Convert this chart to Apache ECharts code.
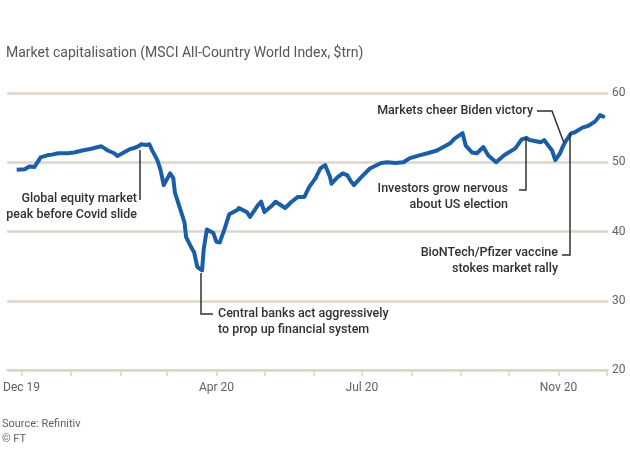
<!DOCTYPE html>
<html><head><meta charset="utf-8">
<script src="https://cdn.jsdelivr.net/npm/echarts@6/dist/echarts.min.js"></script>
<style>html,body{margin:0;padding:0;background:#fff}#c{width:630px;height:450px}</style>
</head><body><div id="c"></div>
<script>
const dates = ['2019-11-28','2019-12-03','2019-12-06','2019-12-09','2019-12-13','2019-12-17','2019-12-20','2019-12-24','2019-12-30',
'2020-01-03','2020-01-08','2020-01-13','2020-01-16','2020-01-20','2020-01-22','2020-01-24','2020-01-28','2020-01-30',
'2020-02-03','2020-02-04','2020-02-07','2020-02-10','2020-02-12','2020-02-14','2020-02-17','2020-02-19','2020-02-21','2020-02-24','2020-02-26','2020-02-28',
'2020-03-03','2020-03-05','2020-03-06','2020-03-09','2020-03-12','2020-03-13','2020-03-16','2020-03-18','2020-03-20','2020-03-23','2020-03-24','2020-03-26','2020-03-30',
'2020-04-01','2020-04-03','2020-04-06','2020-04-09','2020-04-14','2020-04-15','2020-04-20','2020-04-22','2020-04-27','2020-04-29',
'2020-05-01','2020-05-06','2020-05-08','2020-05-14','2020-05-18','2020-05-22','2020-05-26','2020-05-29',
'2020-06-02','2020-06-05','2020-06-08','2020-06-11','2020-06-12','2020-06-16','2020-06-19','2020-06-22','2020-06-24','2020-06-26','2020-06-30',
'2020-07-06','2020-07-13','2020-07-17','2020-07-22','2020-07-27','2020-07-31',
'2020-08-06','2020-08-11','2020-08-17','2020-08-21','2020-08-25','2020-08-28',
'2020-09-02','2020-09-04','2020-09-08','2020-09-11','2020-09-15','2020-09-18','2020-09-23','2020-09-28',
'2020-10-05','2020-10-09','2020-10-12','2020-10-14','2020-10-21','2020-10-23','2020-10-28','2020-10-30',
'2020-11-02','2020-11-04','2020-11-06','2020-11-09','2020-11-11','2020-11-16','2020-11-20','2020-11-24','2020-11-27','2020-11-30'];
const values = [48.9,49.0,49.4,49.3,50.7,51.0,51.1,51.3,51.3,
51.4,51.7,51.9,52.1,52.3,52.0,51.7,51.3,50.9,
51.4,51.6,51.9,52.1,52.3,52.6,52.5,52.6,51.6,50.3,48.9,46.7,
48.4,47.7,45.6,43.5,41.3,39.2,37.8,37.0,34.9,34.4,37.4,40.3,39.8,
38.5,38.4,40.3,42.5,43.1,43.4,42.8,42.1,43.8,44.3,
42.8,43.8,44.3,43.4,44.3,45.0,45.0,46.4,
47.7,49.1,49.6,47.9,46.9,47.9,48.4,48.1,47.3,46.7,47.7,
49.1,49.9,50.0,49.9,50.0,50.6,
51.0,51.3,51.7,52.2,52.7,53.4,
54.2,52.4,51.4,51.3,52.2,51.0,50.0,51.0,
52.0,53.3,53.5,53.2,52.9,53.2,51.7,50.3,
51.3,52.4,53.2,54.2,54.3,55.0,55.3,55.9,56.8,56.5];
const yTicks = [20, 30, 40, 50, 60];
const labelMonths = {'2019-12':'Dec 19','2020-04':'Apr 20','2020-07':'Jul 20','2020-11':'Nov 20'};
const axisStart = [2019, 10, 22], axisEnd = [2020, 11, 2];

const cats = [];
for (let t = Date.UTC(...axisStart); t <= Date.UTC(...axisEnd); t += 86400000) cats.push(new Date(t).toISOString().slice(0, 10));
const lookup = {}; dates.forEach((d, i) => lookup[d] = values[i]);
const seriesData = cats.map(c => (c in lookup ? lookup[c] : null));

const FONT = 'Roboto, "Noto Sans", sans-serif';
const ink = '#33302e', grey = '#66605c', rule = '#ddd5cc';
function txt(x, y, text, align) {
  return {type:'text', x:x, y:y, z:10, style:{text:text, align:align, textAlign:align, verticalAlign:'top', textVerticalAlign:'top', fill:ink, font:'500 12.5px ' + FONT, lineHeight:16}};
}
function leader(points) {
  return {type:'polyline', z:10, shape:{points:points}, style:{stroke:ink, lineWidth:1.5, fill:null}};
}
const chart = echarts.init(document.getElementById('c'));
chart.setOption({
  animation:false,
  backgroundColor:'#fff',
  title:{text:'Market capitalisation (MSCI All-Country World Index, $trn)', left:1, top:41, textStyle:{fontFamily:FONT, fontSize:14, fontWeight:'normal', color:'#5a5550'}},
  grid:{left:7, right:22, top:93, bottom:80, containLabel:false},
  xAxis:{type:'category', data:cats, boundaryGap:false,
    axisLine:{show:true, lineStyle:{color:rule, width:2}},
    axisTick:{show:true, length:6, interval:(i, v) => v.slice(8) === '01', lineStyle:{color:rule, width:1.5}},
    axisLabel:{interval:(i, v) => v.slice(8) === '01' && (v.slice(0,7) in labelMonths), formatter:v => labelMonths[v.slice(0,7)] || '', margin:12, color:grey, fontFamily:FONT, fontSize:12},
    splitLine:{show:false}},
  yAxis:{type:'value', position:'right', min:yTicks[0], max:yTicks[yTicks.length-1], interval:10,
    axisLine:{show:false}, axisTick:{show:false},
    axisLabel:{margin:4, color:grey, fontFamily:FONT, fontSize:12, align:'left'},
    splitLine:{show:true, lineStyle:{color:rule, width:2.5}}},
  series:[{type:'line', data:seriesData, connectNulls:true, showSymbol:false, symbol:'none',
    lineStyle:{color:'#1a5ea8', width:4, join:'round'}, z:5}],
  graphic:[
    leader([[140,150],[140,200]]),
    txt(137, 191, 'Global equity market\npeak before Covid slide', 'right'),
    leader([[201,273],[201,314],[213,314]]),
    txt(218, 306, 'Central banks act aggressively\nto prop up financial system', 'left'),
    leader([[537,111],[552,111],[564,143]]),
    txt(533, 103, 'Markets cheer Biden victory', 'right'),
    leader([[526,137],[526,190],[519,190]]),
    txt(508, 181, 'Investors grow nervous\nabout US election', 'right'),
    leader([[570,133],[570,255],[562,255]]),
    txt(558, 245, 'BioNTech/Pfizer vaccine\nstokes market rally', 'right'),
    {type:'text', x:2, y:419, style:{text:'Source: Refinitiv', fill:grey, font:'11px ' + FONT}},
    {type:'text', x:2, y:434, style:{text:'© FT', fill:grey, font:'11px ' + FONT}}
  ]
});
</script></body></html>
